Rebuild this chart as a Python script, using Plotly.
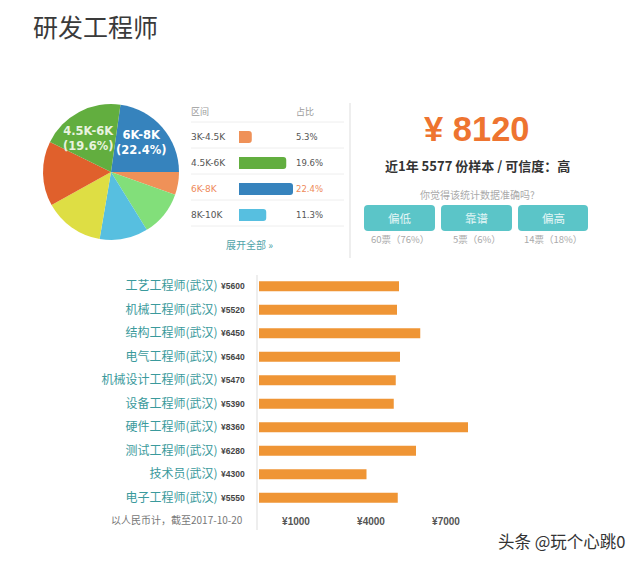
import plotly.graph_objects as go

W, H = 640, 563
CJK = "Noto Sans CJK SC"
LATIN = "DejaVu Sans"
ARIAL = "Liberation Sans"

title = "研发工程师"

pie_labels = ["6K-8K", "3K-4.5K", "其他A", "8K-10K", "其他B", "其他C", "4.5K-6K"]
pie_values = [22.4, 5.3, 10.6, 11.3, 14.0, 15.1, 19.6]
pie_colors = ["#3683bd", "#ef9158", "#82df7a", "#57bfe0", "#dede44", "#e0602c", "#62ae3f"]

range_labels = ["3K-4.5K", "4.5K-6K", "6K-8K", "8K-10K"]
range_values = [5.3, 19.6, 22.4, 11.3]
range_colors = ["#ef9158", "#62ae3f", "#3683bd", "#57bfe0"]
range_pct = ["5.3%", "19.6%", "22.4%", "11.3%"]

jobs = ["工艺工程师(武汉)", "机械工程师(武汉)", "结构工程师(武汉)", "电气工程师(武汉)",
        "机械设计工程师(武汉)", "设备工程师(武汉)", "硬件工程师(武汉)", "测试工程师(武汉)",
        "技术员(武汉)", "电子工程师(武汉)"]
salaries = [5600, 5520, 6450, 5640, 5470, 5390, 8360, 6280, 4300, 5550]
axis_ticks = [1000, 4000, 7000]
axis_ticktext = ["<b>¥1000</b>", "<b>¥4000</b>", "<b>¥7000</b>"]

vote_buttons = ["偏低", "靠谱", "偏高"]
vote_counts = ["60票\uff0876%\uff09", "5票\uff086%\uff09", "14票\uff0818%\uff09"]


def px(x):
    return x / W


def py(y):
    return 1 - y / H


def note(x, y, text, size, color, anchor="left", family=CJK):
    return dict(x=px(x), y=py(y), xref="paper", yref="paper", text=text, showarrow=False,
                xanchor=anchor, yanchor="middle",
                font=dict(size=size, color=color, family=family))


fig = go.Figure()

fig.add_trace(go.Pie(
    labels=pie_labels, values=pie_values, sort=False, direction="clockwise", rotation=8,
    marker=dict(colors=pie_colors, line=dict(width=0)), textinfo="none", hoverinfo="label+percent",
    showlegend=False,
    domain=dict(x=[px(43), px(179)], y=[py(240), py(104)]),
))

fig.add_trace(go.Bar(
    x=range_values, y=range_labels, orientation="h", width=0.46,
    marker=dict(color=range_colors, cornerradius=3, line=dict(width=0)),
    xaxis="x2", yaxis="y2", showlegend=False,
))

fig.add_trace(go.Bar(
    x=salaries, y=jobs, orientation="h", width=0.43,
    marker=dict(color="#ef9535", line=dict(width=0)),
    xaxis="x", yaxis="y", showlegend=False,
))

annotations = [
    note(31, 26, title, 25, "#3a3a3a"),
    note(141, 142, "<b>6K-8K<br>(22.4%)</b>", 11.5, "#ffffff", "center", LATIN),
    note(88, 138, "<b>4.5K-6K<br>(19.6%)</b>", 11.5, "#e8f3df", "center", LATIN),
    note(189, 111, "区间", 9, "#9a9a9a"),
    note(294, 111, "占比", 9, "#9a9a9a"),
    note(249, 245, "展开全部 »", 10, "#4fa3a8", "center"),
    note(477, 129, "<b>¥ 8120</b>", 34.5, "#ee7430", "center", ARIAL),
    note(477, 165, "<b>近1年 5577 份样本 / 可信度\uff1a高</b>", 13, "#333333", "center"),
    note(477, 194, "你觉得该统计数据准确吗?", 10, "#aaaaaa", "center"),
    note(245, 519, "以人民币计\uff0c截至2017-10-20", 10, "#777777", "right"),
    note(496, 541, "头条 @玩个心跳0", 16.5, "#333333"),
]

rows = [137, 163, 189, 215]
for y, label, pct in zip(rows, range_labels, range_pct):
    hot = label == "6K-8K"
    color = "#ee8a5a" if hot else "#555555"
    annotations.append(note(189, y, label, 9, color, family=LATIN))
    annotations.append(note(294, y, pct, 8.5, color, family=LATIN))

button_spans = [(364, 435), (441, 512), (518, 588)]
for (x0, x1), label, count in zip(button_spans, vote_buttons, vote_counts):
    annotations.append(note((x0 + x1) / 2, 218, label, 11.5, "#e4f6f6", "center"))
    annotations.append(note((x0 + x1) / 2, 239, count, 9.5, "#aaaaaa", "center"))

for job, pay in zip(jobs, salaries):
    annotations.append(dict(x=0, y=job, xref="x", yref="y", text=f"<b>¥{pay}</b>", showarrow=False,
                            xanchor="right", yanchor="middle", xshift=-12,
                            font=dict(size=8.5, color="#444444", family=ARIAL)))

shapes = []
for y in [122, 148, 174, 200, 226]:
    shapes.append(dict(type="line", xref="paper", yref="paper", x0=px(191), x1=px(344),
                       y0=py(y), y1=py(y), line=dict(color="#eeeeee", width=1)))
shapes.append(dict(type="line", xref="paper", yref="paper", x0=px(350), x1=px(350),
                   y0=py(103), y1=py(258), line=dict(color="#eeeeee", width=2)))
shapes.append(dict(type="line", xref="paper", yref="paper", x0=px(257), x1=px(257),
                   y0=py(275), y1=py(530), line=dict(color="#eeeeee", width=2)))


def rounded_rect(x0, x1, y0, y1, r=4):
    return (f"M {px(x0 + r)} {py(y0)} L {px(x1 - r)} {py(y0)} Q {px(x1)} {py(y0)} {px(x1)} {py(y0 + r)} "
            f"L {px(x1)} {py(y1 - r)} Q {px(x1)} {py(y1)} {px(x1 - r)} {py(y1)} "
            f"L {px(x0 + r)} {py(y1)} Q {px(x0)} {py(y1)} {px(x0)} {py(y1 - r)} "
            f"L {px(x0)} {py(y0 + r)} Q {px(x0)} {py(y0)} {px(x0 + r)} {py(y0)} Z")


for x0, x1 in button_spans:
    shapes.append(dict(type="path", xref="paper", yref="paper", path=rounded_rect(x0, x1, 205, 231),
                       fillcolor="#5bc5c8", line=dict(width=0), layer="below"))

fig.update_layout(
    width=W, height=H, autosize=False, margin=dict(l=0, r=0, t=0, b=0),
    paper_bgcolor="#ffffff", plot_bgcolor="#ffffff",
    annotations=annotations, shapes=shapes, barmode="overlay",
    xaxis=dict(domain=[px(259), px(609)], range=[0, 14000], tickvals=axis_ticks, ticktext=axis_ticktext,
               ticklabelshift=12, showgrid=False, zeroline=False, showline=False,
               ticks="outside", ticklen=2, tickcolor="rgba(0,0,0,0)",
               tickfont=dict(size=10, color="#555555", family=ARIAL)),
    yaxis=dict(domain=[py(509.5), py(274.5)], autorange="reversed", categoryorder="array", categoryarray=jobs,
               showgrid=False, zeroline=False, showline=False, anchor="x",
               ticks="outside", ticklen=38, tickcolor="rgba(0,0,0,0)",
               tickfont=dict(size=12, color="#3a9a9c", family=CJK)),
    xaxis2=dict(domain=[px(239), px(239 + 54 / 22.4 * 30)], range=[0, 30], visible=False, anchor="y2"),
    yaxis2=dict(domain=[py(228), py(124)], autorange="reversed", categoryorder="array",
                categoryarray=range_labels, visible=False, anchor="x2"),
)

fig.write_html("out.html", config={"displayModeBar": False},
               post_script="document.body.style.margin='0';")
